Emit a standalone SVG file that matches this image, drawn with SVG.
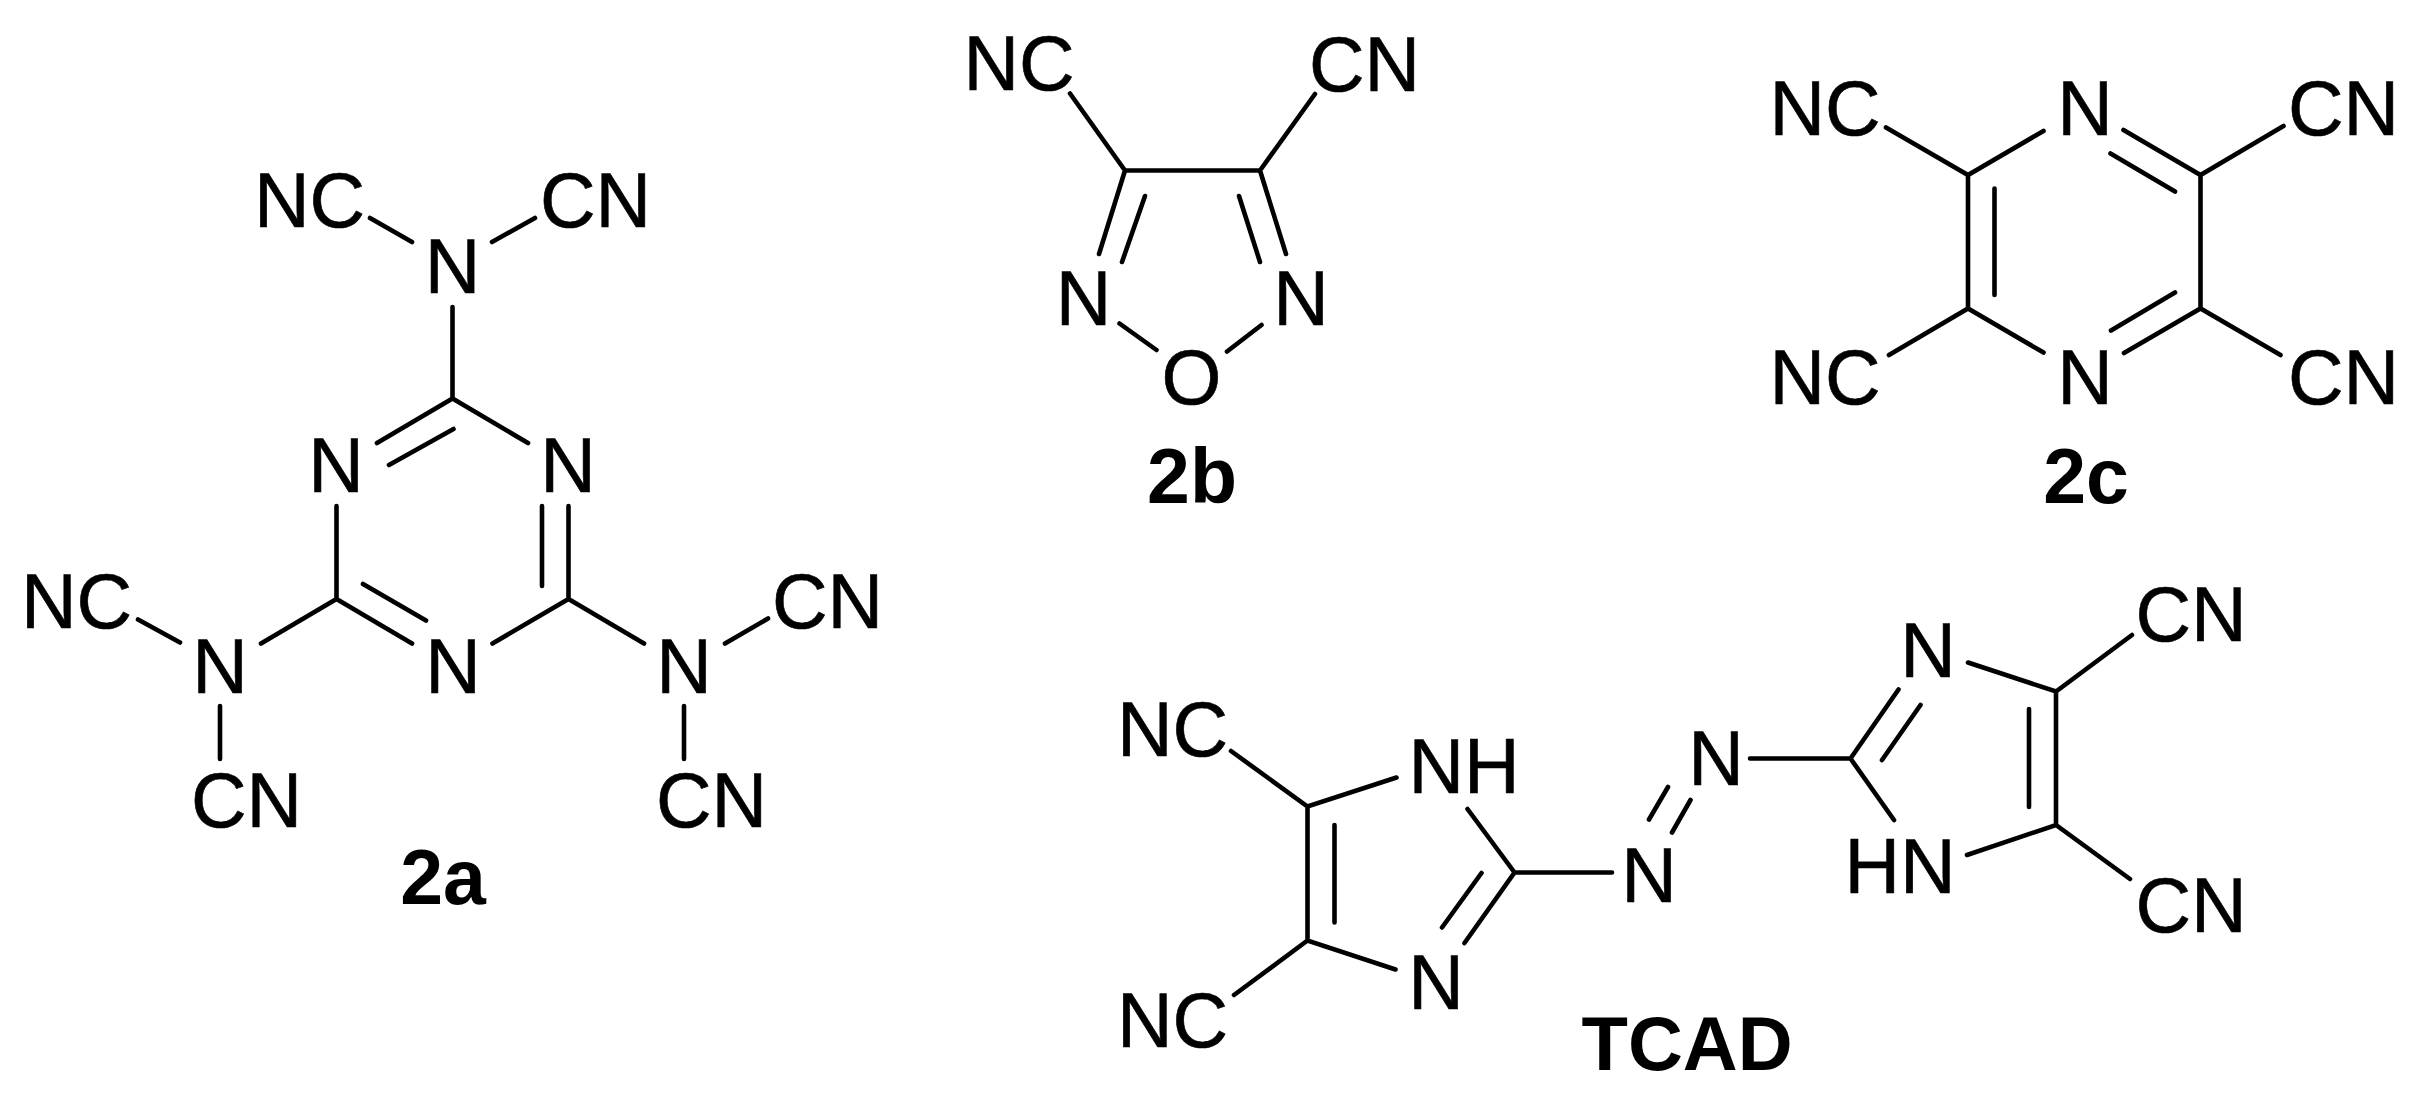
<svg xmlns="http://www.w3.org/2000/svg" width="2421" height="1096" viewBox="0 0 2421 1096">
<style>
text{font-family:"Liberation Sans",Arial,sans-serif;font-size:77px;fill:#000;stroke:#000;stroke-width:.6;text-anchor:middle}
.t{font-weight:bold;stroke-width:0}
#connectors path{fill:none;stroke:#000;stroke-width:4.6;stroke-linecap:round;stroke-linejoin:miter}
</style>
<rect width="2421" height="1096" fill="#fff"/>
<g id="connectors">
<path id="bonds-2a" d="M370 218L412 242M492 242L535 218M452.500 307V398.500M452.500 398.500L377 443M389 465L453.500 429M452.500 398.500L528 443M336.500 506V599M568.500 506V599M542 506V586M336.500 599L412 643.500M363 584L426 620.500M568.500 599L492.500 643.500M138 619.500L180 642.500M261 643.500L336.500 599M220 706V759M568.500 599L644 643.500M725 643.500L768 618.500M684 706V759"/>
<path id="bonds-2b" d="M1070 93.500L1125 170.500M1315 94L1260 170.500M1125 170.500H1260M1125 170.500L1099 254M1145 196L1122 262M1260 170.500L1286 254M1239 196L1260 262M1119.500 323.500L1156.500 350M1261.500 325L1227 351.500"/>
<path id="bonds-2c" d="M1886 127.500L1968 175L2043.500 131M2123.500 130L2200.500 175L2283.500 126M2110.500 153.500L2175 191.500M1968 175V308.500M1994.500 188.500V295M2200.500 175V308.500M1889 355L1968 308.500L2043.500 352.500M2124 353L2200.500 308.500L2280.500 355M2175 292.500L2111 330.500"/>
<path id="bonds-tcad" d="M1231 751L1307.500 806.500L1396.500 777.500M1307.500 806.500V940.500M1334.500 825V922.500M1234 995L1307.500 940.500L1395.500 969.500M1467.500 809L1514.500 872.500L1464.500 943M1481.500 873L1442 927.500M1514.500 872.500H1612M1690.500 800L1672 832.500M1668 787L1649 819.500M1750 758.500H1850.500M1850.500 758.500L1898.500 689.500M1920.500 705L1882 760M1850.500 758.500L1894 820M1968 662.500L2056 691.500L2132 635M2056 691.500V825M2029 709V807M1967 855L2056 825L2130 879"/>
</g>
<g id="molecule-2a">
<text id="a-nc1" x="309.500" y="226.500">NC</text>
<text id="a-cn1" x="595.500" y="226.500">CN</text>
<text id="a-n1" x="452.500" y="292.500">N</text>
<text id="a-n2" x="336" y="491.500">N</text>
<text id="a-n3" x="568" y="491.500">N</text>
<text id="a-n4" x="453" y="693">N</text>
<text id="a-nc2" x="76.500" y="627.500">NC</text>
<text id="a-n5" x="220" y="693">N</text>
<text id="a-cn2" x="246.500" y="826.500">CN</text>
<text id="a-n6" x="684" y="693">N</text>
<text id="a-cn3" x="827.500" y="627.500">CN</text>
<text id="a-cn4" x="711.500" y="826.500">CN</text>
<text id="a-label" class="t" x="443" y="903.500">2a</text>
</g>
<g id="molecule-2b">
<text id="b-nc" x="1019" y="90">NC</text>
<text id="b-cn" x="1364.500" y="90.500">CN</text>
<text id="b-n1" x="1083.500" y="325">N</text>
<text id="b-n2" x="1301" y="325">N</text>
<text id="b-o" x="1191.500" y="404">O</text>
<text id="b-label" class="t" x="1192" y="502.500">2b</text>
</g>
<g id="molecule-2c">
<text id="c-nc1" x="1825" y="135">NC</text>
<text id="c-n1" x="2085" y="135">N</text>
<text id="c-cn1" x="2343.500" y="135">CN</text>
<text id="c-nc2" x="1825" y="403.500">NC</text>
<text id="c-n2" x="2085" y="403.500">N</text>
<text id="c-cn2" x="2343.500" y="403.500">CN</text>
<text id="c-label" class="t" x="2086" y="502.500">2c</text>
</g>
<g id="molecule-tcad">
<text id="t-nc1" x="1172.500" y="755.500">NC</text>
<text id="t-nc2" x="1172.500" y="1046.500">NC</text>
<text id="t-nh" x="1464" y="792.500">NH</text>
<text id="t-n1" x="1436" y="1009">N</text>
<text id="t-n2" x="1649" y="901.500">N</text>
<text id="t-n3" x="1716" y="784.500">N</text>
<text id="t-n4" x="1928" y="676.500">N</text>
<text id="t-hn" x="1900" y="893">HN</text>
<text id="t-cn1" x="2191" y="641">CN</text>
<text id="t-cn2" x="2191" y="931.500">CN</text>
<text id="t-label" class="t" x="1687" y="1069.500" style="font-size:76px">TCAD</text>
</g>
</svg>
